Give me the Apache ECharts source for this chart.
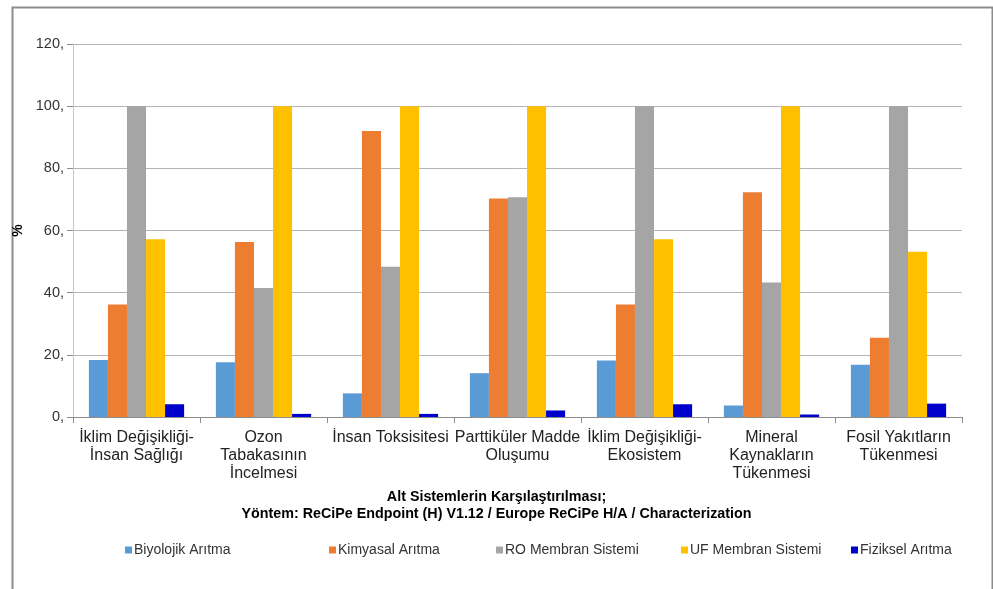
<!DOCTYPE html>
<html>
<head>
<meta charset="utf-8">
<script src="https://cdn.jsdelivr.net/npm/echarts@6/dist/echarts.min.js"></script>
<style>
  html, body { margin: 0; padding: 0; background: #fff; }
  #chart { width: 993px; height: 589px; }
</style>
</head>
<body>
<div id="chart"></div>
<script>
const categories = [
  "İklim Değişikliği-\nİnsan Sağlığı",
  "Ozon\nTabakasının\nİncelmesi",
  "İnsan Toksisitesi",
  "Parttiküler Madde\nOluşumu",
  "İklim Değişikliği-\nEkosistem",
  "Mineral\nKaynakların\nTükenmesi",
  "Fosil Yakıtların\nTükenmesi"
];
const seriesNames = ["Biyolojik Arıtma", "Kimyasal Arıtma", "RO Membran Sistemi", "UF Membran Sistemi", "Fiziksel Arıtma"];
const biyolojik = [18.3, 17.6, 7.6, 14.1, 18.2, 3.7, 16.8];
const kimyasal = [36.2, 56.3, 92.0, 70.3, 36.2, 72.3, 25.5];
const roMembran = [100, 41.5, 48.3, 70.7, 100, 43.3, 100];
const ufMembran = [57.2, 100, 100, 100, 57.2, 100, 53.2];
const fiziksel = [4.1, 1.0, 1.0, 2.1, 4.1, 0.8, 4.3];
const yTicks = [0, 20, 40, 60, 80, 100, 120];

const font = "Liberation Sans, Arial, sans-serif";
const colors = ["#5B9BD5", "#ED7D31", "#A5A5A5", "#FFC000", "#0000CC"];
const legendLeft = [125, 329, 496, 681, 851];
const myChart = echarts.init(document.getElementById("chart"));

const mkSeries = (name, data, color) => ({
  name: name,
  type: "bar",
  data: data,
  barGap: "0%",
  barCategoryGap: "25%",
  itemStyle: { color: color },
  emphasis: { disabled: true }
});

// one legend per item so each sits where the reference puts it
const setLegends = () => {
  let res = [];
  for (let i in seriesNames) {
    res.push({
      top: 543,
      left: legendLeft[i],
      padding: 0,
      itemWidth: 7,
      itemHeight: 7,
      icon: "rect",
      textStyle: { fontSize: 14, color: "#333", fontFamily: font, padding: [0, 0, 0, -3] },
      data: [seriesNames[i]]
    });
  }
  return res;
};

const option = {
  animation: false,
  color: colors,
  textStyle: { fontFamily: font },
  title: {
    text: "Alt Sistemlerin Karşılaştırılması;\nYöntem: ReCiPe Endpoint (H) V1.12 / Europe ReCiPe H/A / Characterization",
    left: "center",
    top: 489,
    padding: 0,
    textStyle: { fontWeight: "bold", fontSize: 14.3, color: "#000", fontFamily: font, lineHeight: 17 }
  },
  graphic: [
    {
      type: "rect",
      left: 10, top: 5,
      shape: { width: 980, height: 620 },
      style: { fill: "none", stroke: "#8c8c8c", lineWidth: 2 },
      silent: true
    }
  ],
  legend: setLegends(),
  grid: { left: 73, right: 31, top: 44, bottom: 172 },
  xAxis: {
    type: "category",
    data: categories,
    axisLine: { lineStyle: { color: "#8c8c8c", width: 1 } },
    axisTick: { show: true, length: 6, lineStyle: { color: "#8c8c8c" } },
    axisLabel: {
      interval: 0,
      fontSize: 16,
      color: "#222",
      lineHeight: 18,
      margin: 12,
      fontFamily: font
    }
  },
  yAxis: {
    type: "value",
    min: 0,
    max: 120,
    interval: 20,
    name: "%",
    nameLocation: "middle",
    nameRotate: 90,
    nameGap: 44,
    nameTextStyle: { fontWeight: "bold", fontSize: 14, color: "#000", fontFamily: font },
    axisLine: { show: true, lineStyle: { color: "#c8c8c8" } },
    axisTick: { show: true, length: 6, lineStyle: { color: "#8c8c8c" } },
    splitLine: { lineStyle: { color: "#b4b4b4", width: 1 } },
    axisLabel: {
      fontSize: 14.5,
      color: "#333",
      margin: 9,
      fontFamily: font,
      formatter: (v) => (yTicks.includes(v) ? v + "," : "")
    }
  },
  series: [
    mkSeries(seriesNames[0], biyolojik, colors[0]),
    mkSeries(seriesNames[1], kimyasal, colors[1]),
    mkSeries(seriesNames[2], roMembran, colors[2]),
    mkSeries(seriesNames[3], ufMembran, colors[3]),
    mkSeries(seriesNames[4], fiziksel, colors[4])
  ]
};
option && myChart.setOption(option);
</script>
</body>
</html>
